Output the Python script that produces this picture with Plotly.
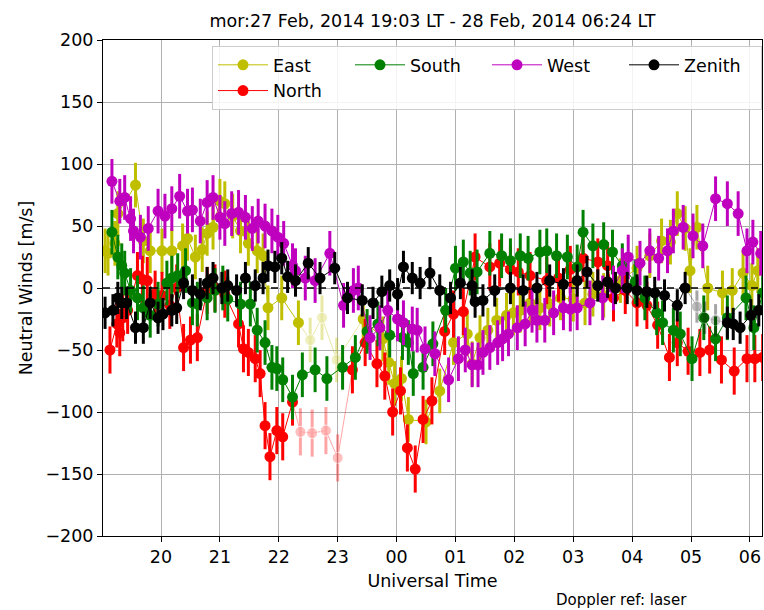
import plotly.graph_objects as go

# ---------------- data (UT time, wind m/s) ----------------
east_t = ["19:03","19:06","19:13","19:16","19:34","19:42","19:49","20:01","20:11","20:22","20:27","20:35",
          "20:42","20:47","20:53","21:00","21:05","21:13","21:21","21:29","21:38","21:44","21:49","22:03",
          "22:20","22:32","22:44","22:59","23:26","23:46","23:52","23:58","00:05","00:12","00:30","00:44",
          "00:58","01:12","01:17","01:25","01:33","01:42","01:52","01:59","02:06","02:16","02:26","02:36",
          "02:47","03:00","03:12","03:20","03:31","03:48","04:05","04:18","04:30","04:39","04:46","04:54",
          "04:59","05:06","05:17","05:32","05:42","05:53","06:02","06:08"]
east_v = [30,28,36,60,83,38,30,30,30,34,40,25,
          31,44,49,70,68,58,46,36,30,26,-16,-8,
          -28,-42,-24,-58,-25,-41,-60,-77,-73,-106,-108,-83,
          -44,-37,-61,-40,-34,-26,-22,-20,-18,-12,-16,-13,
          -8,-9,-12,-5,-6,6,16,26,38,37,60,48,
          14,49,0,-4,-2,12,2,14]
east_faded = ["22:32","22:44","22:59"]
east_err = 18

north_t = ["19:08","19:15","19:18","19:21","19:26","19:36","19:41","19:46","19:54","20:01","20:09","20:16",
           "20:23","20:30","20:37","20:47","20:55","21:05","21:19","21:24","21:29","21:36","21:41","21:46",
           "21:51","21:58","22:04","22:14","22:22","22:34","22:48","23:00","23:15","23:28","23:40","23:48",
           "23:56","00:04","00:11","00:19","00:27","00:36","00:49","00:58","01:08","01:20","01:35","01:45",
           "01:56","02:04","02:16","02:33","02:45","02:57","03:10","03:25","03:35","03:41","03:53","04:05",
           "04:15","04:26","04:38","04:46","04:57","05:09","05:19","05:31","05:44","05:57","06:05","06:13"]
north_v = [-50,-29,-36,-24,-18,10,7,6,-5,-6,-14,0,
           -48,-42,-40,-2,0,-5,-29,-49,-52,-57,-69,-111,
           -136,-115,-120,-92,-116,-117,-115,-137,-66,-44,-61,-71,
           -100,-83,-129,-146,-106,-91,-35,-21,-19,25,17,20,
           15,13,10,6,8,15,24,21,18,-8,-2,-12,
           -14,-30,-56,-44,-51,-52,-50,-58,-67,-57,-57,-56]
north_faded = ["22:22","22:34","22:48","23:00"]
north_err = 19

south_t = ["19:10","19:16","19:20","19:23","19:29","19:36","19:42","19:49","19:57","20:06","20:11","20:17",
           "20:25","20:32","20:37","20:47","20:55","21:03","21:08","21:21","21:31","21:38","21:46","21:53",
           "21:58","22:04","22:14","22:24","22:37","22:49","23:05","23:18","23:30","23:41","23:53","00:06",
           "00:12","00:17","00:27","00:37","00:50","01:00","01:08","01:15","01:22","01:35","01:47","01:56",
           "02:06","02:14","02:26","02:33","02:43","02:54","03:04","03:10","03:20","03:31","03:40","03:50",
           "04:03","04:13","04:25","04:31","04:42","04:49","05:01","05:13","05:25","05:37","05:56","06:04","06:13"]
south_v = [45,25,18,12,-2,-8,-16,-22,-13,4,8,10,
           14,-12,-13,-8,-2,0,-9,-13,-13,-34,-44,-64,
           -65,-74,-88,-70,-66,-73,-64,-56,-35,-29,-38,-40,
           -44,-69,-64,-45,-18,16,21,12,13,28,26,22,
           26,24,29,30,26,25,17,45,34,35,29,18,
           5,-8,-20,-28,-34,-37,-57,-24,-41,-24,-8,-32,-4]
south_faded = []
south_err = 18

west_t = ["19:10","19:18","19:23","19:29","19:32","19:39","19:47","19:57","20:04","20:11","20:19","20:27",
          "20:32","20:40","20:47","20:53","21:00","21:05","21:12","21:19","21:26","21:33","21:39","21:46",
          "21:53","21:59","22:05","22:14","22:17","22:27","22:37","22:52","23:06","23:16","23:21","23:33",
          "23:43","23:51","00:01","00:07","00:16","00:21","00:29","00:39","00:53","01:03","01:10","01:17",
          "01:23","01:28","01:35","01:43","01:48","01:54","02:03","02:11","02:18","02:23","02:31","02:40",
          "02:50","02:57","03:04","03:17","03:30","03:41","03:50","03:56","04:08","04:18","04:27","04:36",
          "04:42","04:52","05:02","05:12","05:25","05:37","05:48","05:57","06:03","06:11"]
west_v = [86,70,73,56,46,41,48,62,58,64,74,62,
          63,54,69,73,57,52,60,61,57,48,54,50,
          46,41,36,18,14,8,6,28,-14,-2,0,-40,
          -32,-18,-25,-28,-33,-34,-49,-53,-74,-57,-50,-62,
          -62,-52,-48,-44,-41,-37,-32,-29,-18,-26,-26,-20,
          -16,-17,-16,-12,-8,0,14,25,20,30,24,30,
          46,49,42,34,72,68,60,30,37,28]
west_faded = []
west_err = 18

zenith_t = ["19:03","19:11","19:16","19:20","19:25","19:34","19:42","19:49","19:57","20:02","20:11","20:16",
            "20:23","20:32","20:40","20:47","20:53","21:02","21:08","21:17","21:26","21:36","21:44","21:49",
            "21:56","22:03","22:09","22:17","22:30","22:42","22:57","23:10","23:25","23:36","23:45","23:53",
            "00:01","00:07","00:16","00:24","00:34","00:44","00:55","01:05","01:17","01:20","01:28","01:40",
            "01:56","02:09","02:23","02:36","02:50","03:04","03:14","03:25","03:35","03:43","03:55","04:05",
            "04:15","04:23","04:33","04:46","04:54","05:06","05:14","05:25","05:37","05:43","05:50","06:01","06:09"]
zenith_v = [-20,-18,-8,-12,-12,-32,-32,-12,-24,-21,-18,-16,
            4,-2,-5,4,8,0,2,-2,8,2,8,18,
            17,24,9,6,20,8,16,-8,-10,-12,-3,2,
            -5,17,8,4,12,-2,-8,4,2,-11,-10,-2,
            0,-2,0,6,3,6,13,2,5,0,0,-2,
            -3,-4,-6,-14,0,-15,-24,-26,-28,-29,-32,-22,-18]
zenith_faded = ["05:06","05:14","05:25"]
zenith_err = 13

x_tickvals = [20, 21, 22, 23, 24, 25, 26, 27, 28, 29, 30]
x_ticktext = ["20", "21", "22", "23", "00", "01", "02", "03", "04", "05", "06"]
y_tickvals = [-200, -150, -100, -50, 0, 50, 100, 150, 200]

FONT = "DejaVu Sans"


def to_hours(s):
    hh, mm = s.split(":")
    h = int(hh) + int(mm) / 60.0
    return h + 24 if int(hh) < 12 else h


series = [
    ("East", east_t, east_v, east_faded, east_err, "#bfbf00", 1),
    ("North", north_t, north_v, north_faded, north_err, "#ff0000", 5),
    ("South", south_t, south_v, south_faded, south_err, "#008000", 2),
    ("West", west_t, west_v, west_faded, west_err, "#bf00bf", 3),
    ("Zenith", zenith_t, zenith_v, zenith_faded, zenith_err, "#000000", 4),
]

fig = go.Figure()

for name, ts, vs, faded, err, color, rank in series:
    xs = [to_hours(t) for t in ts]
    ys_main = [None if t in faded else v for t, v in zip(ts, vs)]
    fig.add_trace(go.Scatter(
        x=xs, y=ys_main, name=name, mode="lines+markers",
        line=dict(color=color, width=1),
        marker=dict(color=color, size=11),
        error_y=dict(type="constant", value=err, color=color, thickness=3, width=0),
        legendrank=rank, connectgaps=False,
    ))
    # low-quality (faded) points, line joined to neighbours
    idx = [i for i, t in enumerate(ts) if t in faded]
    if idx:
        lo = max(idx[0] - 1, 0)
        hi = min(idx[-1] + 1, len(ts) - 1)
        fx = xs[lo:hi + 1]
        fy = vs[lo:hi + 1]
        sizes = [11 if ts[i] in faded else 0 for i in range(lo, hi + 1)]
        errs = [err if ts[i] in faded else 0 for i in range(lo, hi + 1)]
        fig.add_trace(go.Scatter(
            x=fx, y=fy, mode="lines+markers", showlegend=False, opacity=0.35,
            line=dict(color=color, width=1),
            marker=dict(color=color, size=sizes),
            error_y=dict(type="data", array=errs, color=color, thickness=3, width=0),
        ))

fig.add_shape(type="line", xref="paper", yref="y", x0=0, x1=1, y0=0, y1=0,
              line=dict(color="black", width=1.5, dash="7px,5px"))

axis_common = dict(
    showline=True, linecolor="black", linewidth=1, mirror=True,
    ticks="outside", ticklen=5, tickwidth=1, tickcolor="black",
    showgrid=True, gridcolor="#b0b0b0", gridwidth=1, zeroline=False,
    tickfont=dict(family=FONT, size=17.5, color="black"),
    automargin=False,
)

fig.update_layout(
    width=764, height=610,
    margin=dict(l=103, r=2, t=40, b=74),
    paper_bgcolor="white", plot_bgcolor="white",
    font=dict(family=FONT, size=17.5, color="black"),
    title=dict(text="mor:27 Feb, 2014 19:03 LT - 28 Feb, 2014 06:24 LT",
               x=0.5, xref="paper", xanchor="center",
               y=1 - 21 / 610, yref="container", yanchor="middle",
               font=dict(family=FONT, size=17.5, color="black")),
    xaxis=dict(range=[19.015, 30.205], tickvals=x_tickvals, ticktext=x_ticktext,
               title=dict(text="Universal Time", standoff=8,
                          font=dict(family=FONT, size=17.5)),
               **axis_common),
    yaxis=dict(range=[-200, 200], tickvals=y_tickvals,
               title=dict(text="Neutral Winds [m/s]", standoff=8,
                          font=dict(family=FONT, size=17.5)),
               **axis_common),
    legend=dict(orientation="h", x=1, xanchor="right", y=0.988, yanchor="top",
                entrywidth=72, itemwidth=50,
                bgcolor="rgba(255,255,255,0.85)", bordercolor="#cccccc", borderwidth=1,
                font=dict(family=FONT, size=17.5, color="black"),
                traceorder="normal"),
    showlegend=True,
)

fig.add_annotation(text="Doppler ref: laser", xref="paper", yref="paper",
                   x=(621 - 103) / 659, y=(536 - 600) / 496,
                   xanchor="center", yanchor="middle", showarrow=False,
                   font=dict(family=FONT, size=15, color="black"))

fig.write_html("out.html",
               config={"displayModeBar": False},
               post_script="document.body.style.margin='0';document.body.style.overflow='hidden';")
